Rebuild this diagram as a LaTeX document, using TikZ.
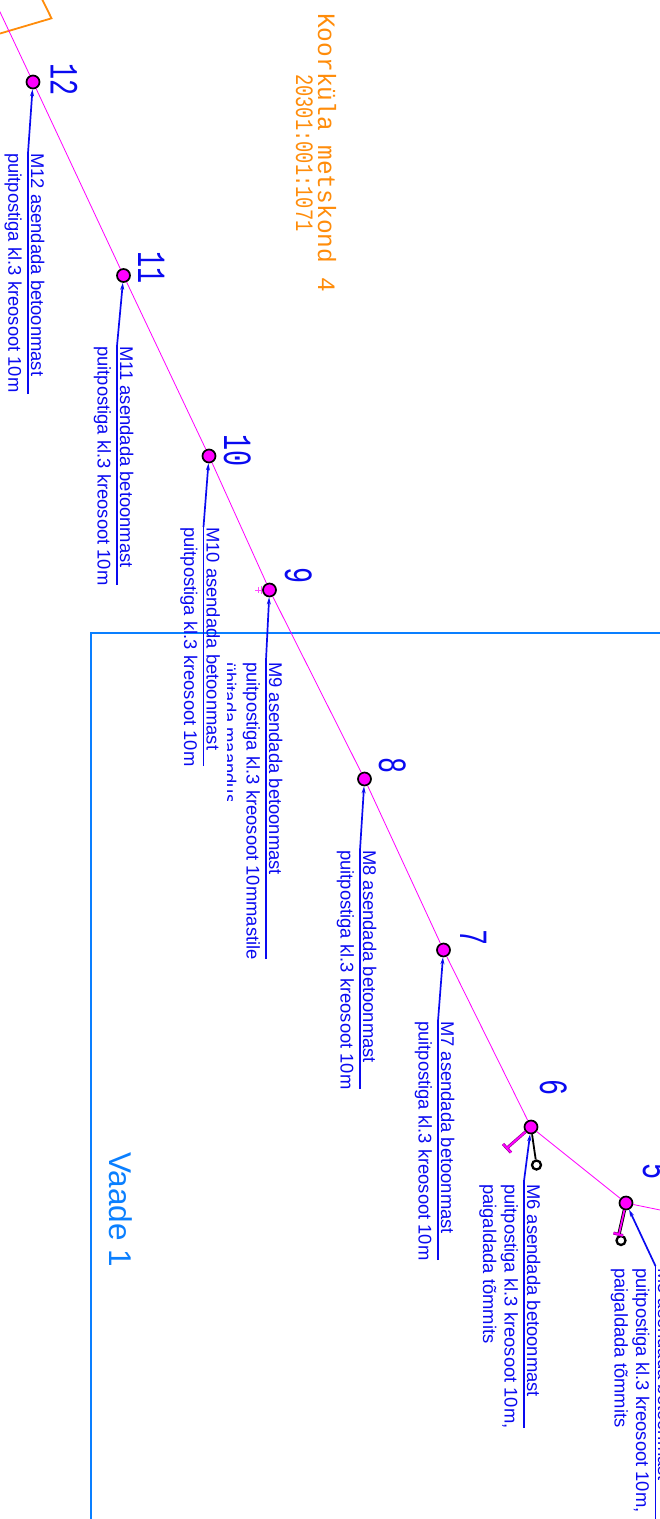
\documentclass[tikz,border=0pt]{standalone}
\usepackage{graphicx}
\usepackage{fontspec}
\setmainfont{Liberation Sans}
\newfontfamily\cadfont{Liberation Mono}
\usetikzlibrary{arrows.meta}
\definecolor{mag}{RGB}{255,0,255}
\definecolor{lbl}{RGB}{10,10,240}
\definecolor{orng}{RGB}{255,140,10}
\definecolor{frameblue}{RGB}{10,127,255}
\newcommand{\numtxt}[1]{\scalebox{0.67}[1]{#1}}
\tikzset{
  x=1pt,y=-1pt,
  pole/.style={circle,draw=black,fill=mag,line width=1.7pt,minimum size=13pt,inner sep=0pt},
  ring/.style={circle,draw=black,fill=white,line width=2.3pt,minimum size=9pt,inner sep=0pt},
  span/.style={draw=mag,line width=0.8pt},
  stubedge/.style={draw=mag!55!black,line width=3pt},
  stubcore/.style={draw=mag,line width=1.8pt},
  leader/.style={draw=lbl,line width=1.7pt,-{Stealth[length=7pt,width=4pt]}},
  under/.style={draw=lbl,line width=1.7pt},
  lab/.style={text=lbl,font=\fontsize{18.4}{19}\selectfont,rotate=-90,anchor=base west,inner sep=0pt},
  num/.style={text=lbl,font=\cadfont\fontsize{40}{41}\selectfont,rotate=-90,anchor=base west,inner sep=0pt},
  cad/.style={text=orng,font=\cadfont\fontsize{25}{26}\selectfont,rotate=-90,anchor=base west,inner sep=0pt},
}
\begin{document}
\begin{tikzpicture}
\useasboundingbox (0,0) rectangle (660,1519);
\clip (0,0) rectangle (660,1519);
% parcel corner
\coordinate (pa) at (41,-3); \coordinate (pb) at (51.5,18.3); \coordinate (pc) at (-5,35);
\draw[orng,line width=1.8pt] (pa) -- (pb) -- (pc);
% frame
\coordinate (fa) at (670,633); \coordinate (fb) at (91,633); \coordinate (fc) at (91,1530);
\draw[frameblue,line width=1.5pt] (fa) -- (fb) -- (fc);
% poles
\coordinate (pstart) at (-8,-5);
\coordinate (pend) at (670,1212);
\node[pole] (p12) at (33,82) {};
\node[pole] (p11) at (123.5,275.5) {};
\node[pole] (p10) at (209,456) {};
\node[pole] (p9) at (269.5,590) {};
\node[pole] (p8) at (364.5,779) {};
\node[pole] (p7) at (443.5,950) {};
\node[pole] (p6) at (531,1127) {};
\node[pole] (p5) at (626,1203) {};
\draw[span] (pstart) -- (p12) -- (p11) -- (p10) -- (p9) -- (p8) -- (p7) -- (p6) -- (p5) -- (pend);
% stay and strut at 6, 5
\coordinate (t6) at (507,1148); \coordinate (t6a) at (503,1144); \coordinate (t6b) at (511,1152.5);
\node[ring] (r6) at (536.5,1165) {};
\draw[black,line width=1.8pt] (p6) -- (r6);
\draw[stubedge] (t6a) -- (t6b);
\draw[stubedge] (p6) -- (t6);
\draw[stubcore] (t6a) -- (t6b);
\draw[stubcore] (p6) -- (t6);
\coordinate (t5) at (619,1234); \coordinate (t5a) at (613.5,1233); \coordinate (t5b) at (623,1235.5);
\node[ring] (r5) at (621,1240.5) {};
\draw[stubedge] (t5a) -- (t5b);
\draw[black,line width=3.4pt] (p5) -- (t5);
\draw[stubcore] (p5) -- (t5);
\draw[stubcore] (t5a) -- (t5b);
% tick at 9
\coordinate (t9) at (255,590);
\draw[mag!70!white,line width=.6pt] (p9) -- (t9);
\coordinate (t9a) at (258,587); \coordinate (t9b) at (258,593);
\draw[mag!70!white,line width=.6pt] (t9a) -- (t9b);
\coordinate (t9c) at (261,586); \coordinate (t9d) at (261,594);
\draw[mag!70!white,line width=.6pt] (t9c) -- (t9d);
% labels and leaders
\foreach \n/\bx/\ty/\ey/\txt in {
 12/28/153/394/M12,
 11/117/346/585/M11,
 10/203.5/527/766/M10,
 8/360/850/1089/M8,
 7/438/1021/1260/M7}{
 \coordinate (e\n) at (\bx,\ey);
 \coordinate (k\n) at (\bx,\ty);
 \draw[under] (e\n) -- (k\n);
 \draw[leader] (k\n) -- (p\n);
 \node[lab] (a\n) at (\bx+3,\ty) {\txt\ asendada betoonmast};
 \node[lab] (b\n) at (\bx-19.5,\ty) {puitpostiga kl.3 kreosoot 10m};
}
% M9
\coordinate (e9) at (266,959); \coordinate (k9) at (266,660);
\draw[under] (e9) -- (k9);
\draw[leader] (k9) -- (p9);
\node[lab] (a9) at (269,662) {M9 asendada betoonmast};
\node[lab] (b9) at (246.5,662) {puitpostiga kl.3 kreosoot 10mmastile};
\begin{scope}
\clip (227,655) rectangle (236,800);
\node[lab] (c9) at (223,662) {ühitada maandus};
\end{scope}
% M6
\coordinate (e6) at (524,1428); \coordinate (k6) at (524,1181);
\draw[under] (e6) -- (k6);
\draw[leader] (k6) -- (p6);
\node[lab] (a6) at (527,1184) {M6 asendada betoonmast};
\node[lab] (b6) at (504.5,1184) {puitpostiga kl.3 kreosoot 10m,};
\node[lab] (c6) at (483,1184) {paigaldada tõmmits};
% M5
\coordinate (e5) at (655.5,1530); \coordinate (k5) at (655.5,1266);
\draw[under] (e5) -- (k5);
\draw[leader] (k5) -- (p5);
\node[lab] (a5) at (658,1268) {M5 asendada betoonmast};
\node[lab] (b5) at (636,1268) {puitpostiga kl.3 kreosoot 10m,};
\node[lab] (c5) at (614.5,1268) {paigaldada tõmmits};
% numbers
\node[num] (n12) at (50.5,63) {\numtxt{12}};
\node[num] (n11) at (138,251) {\numtxt{11}};
\node[num] (n10) at (224,434) {\numtxt{10}};
\node[num] (n9) at (285,567) {\numtxt{9}};
\node[num] (n8) at (379,757) {\numtxt{8}};
\node[num] (n7) at (460,929) {\numtxt{7}};
\node[num] (n6) at (540,1079) {\numtxt{6}};
\node[num] (n5) at (643,1163) {\numtxt{5}};
% text
\node[cad] (t1) at (318,13) {\scalebox{0.98}[1]{Koorküla metskond 4}};
\node[cad] (t2) at (296,74) {\scalebox{0.75}[1]{20301:001:1071}};
\node[text=frameblue,font=\fontsize{31.5}{32}\selectfont,rotate=-90,anchor=base west,inner sep=0pt] (v1) at (109.5,1152) {Vaade 1};
\end{tikzpicture}
\end{document}
